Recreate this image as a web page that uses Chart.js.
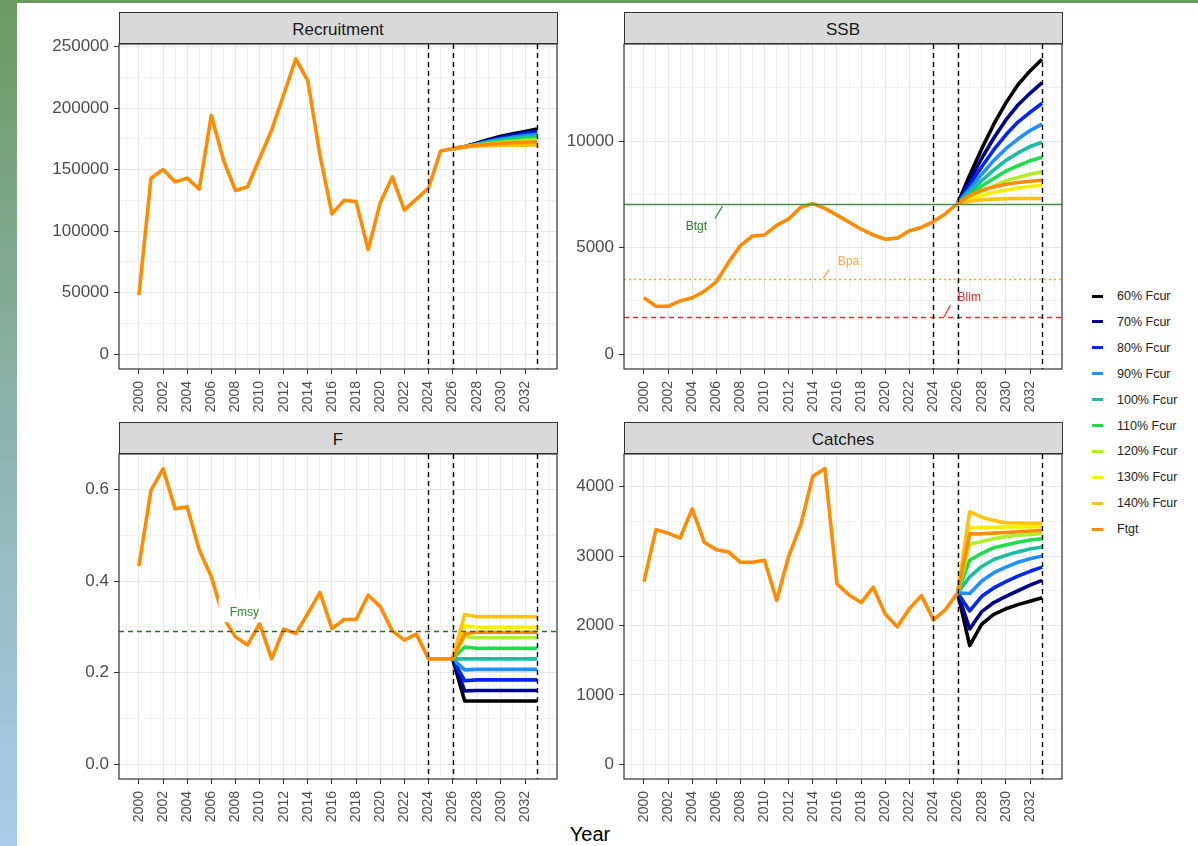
<!DOCTYPE html>
<html>
<head>
<meta charset="utf-8">
<script src="https://cdn.jsdelivr.net/npm/chart.js@4.4.1/dist/chart.umd.min.js"></script>
<style>
  html, body { margin: 0; padding: 0; background: #fff; }
  body { width: 1198px; height: 846px; position: relative; overflow: hidden;
         font-family: "Liberation Sans", Arial, sans-serif; }
  #leftbar { position: absolute; left: 0; top: 0; width: 17px; height: 846px;
             background: linear-gradient(to bottom, #6c9960 0%, #8db2aa 48%, #a9cdeb 100%); }
  #topbar { position: absolute; left: 0; top: 0; width: 1198px; height: 3px; background: #6c9960; }
  .panel { position: absolute; }
  .strip { position: absolute; height: 32px; background: #d9d9d9; border: 1px solid #333;
           box-sizing: border-box; text-align: center; font-size: 17px; line-height: 34px; color: #1a1a1a; }
  #legend { position: absolute; left: 1092px; top: 288px; width: 100px; height: 260px; }
  .lg { position: absolute; left: 0; height: 16px; width: 100px; }
  .sw { position: absolute; left: 0; top: 6.5px; width: 11px; height: 3px; }
  .lt { position: absolute; left: 25px; top: 0; line-height: 16px; font-size: 12.5px; color: #222; white-space: nowrap; }
  #xtitle { position: absolute; left: 540px; top: 824px; width: 100px; text-align: center;
            font-size: 20px; line-height: 20px; color: #000; }
</style>
</head>
<body>
<div id="leftbar"></div>
<div id="topbar"></div>
<div id="legend"></div>
<div id="xtitle">Year</div>

<script>
// --- datos ---
const histYears = [2000, 2001, 2002, 2003, 2004, 2005, 2006, 2007, 2008, 2009, 2010, 2011, 2012, 2013,
                   2014, 2015, 2016, 2017, 2018, 2019, 2020, 2021, 2022, 2023, 2024, 2025, 2026];
const projYears = [2027, 2028, 2029, 2030, 2031, 2032, 2033];

const scenarios = ["60% Fcur", "70% Fcur", "80% Fcur", "90% Fcur", "100% Fcur",
                   "110% Fcur", "120% Fcur", "130% Fcur", "140% Fcur", "Ftgt"];

// Recruitment
const recHist = [48000, 143000, 150000, 140000, 143000, 134000, 194000, 158000, 133000, 136000,
                 159000, 182000, 211000, 240000, 222000, 162000, 114000, 125000, 124000, 85000,
                 123000, 144000, 117000, 126000, 135000, 165000, 167000];
const recProj = [
  [168500, 171500, 174500, 177000, 179000, 181000, 183000],
  [168500, 171200, 174000, 176300, 178300, 180000, 181500],
  [168500, 170900, 173400, 175500, 177300, 178800, 180000],
  [168500, 170600, 172800, 174700, 176200, 177500, 178500],
  [168500, 170300, 172200, 173800, 175000, 176100, 177000],
  [168500, 170000, 171600, 172900, 173900, 174800, 175500],
  [168500, 169800, 171000, 172000, 172800, 173500, 174000],
  [168500, 169500, 170300, 171000, 171500, 171900, 172200],
  [168500, 169100, 169400, 169600, 169700, 169800, 169800],
  [168500, 169700, 170600, 171300, 171800, 172200, 172500]
];

// SSB
const ssbHist = [2650, 2250, 2250, 2500, 2650, 2950, 3400, 4300, 5100, 5550, 5600, 6050, 6350, 6900,
                 7070, 6850, 6530, 6200, 5870, 5600, 5400, 5450, 5800, 5950, 6230, 6600, 7080];
const ssbProj = [
  [8400, 9650, 10800, 11800, 12650, 13300, 13850],
  [8150, 9200, 10150, 11000, 11700, 12250, 12750],
  [7950, 8800, 9600, 10300, 10900, 11350, 11780],
  [7750, 8450, 9100, 9650, 10100, 10500, 10800],
  [7600, 8150, 8650, 9100, 9450, 9750, 9950],
  [7450, 7900, 8250, 8600, 8850, 9080, 9250],
  [7350, 7650, 7900, 8150, 8300, 8450, 8560],
  [7250, 7450, 7600, 7700, 7800, 7870, 7930],
  [7180, 7250, 7280, 7300, 7310, 7310, 7300],
  [7450, 7700, 7850, 7980, 8060, 8120, 8170]
];

// F
const fHist = [0.433, 0.598, 0.645, 0.558, 0.562, 0.468, 0.41, 0.32, 0.278, 0.26, 0.307, 0.23, 0.295,
               0.285, 0.329, 0.375, 0.296, 0.316, 0.316, 0.369, 0.344, 0.291, 0.271, 0.284, 0.23, 0.23, 0.23];
const fProj = [
  [0.138, 0.138, 0.138, 0.138, 0.138, 0.138, 0.138],
  [0.160, 0.161, 0.161, 0.161, 0.161, 0.161, 0.161],
  [0.182, 0.184, 0.184, 0.184, 0.184, 0.184, 0.184],
  [0.206, 0.207, 0.207, 0.207, 0.207, 0.207, 0.207],
  [0.230, 0.230, 0.230, 0.230, 0.230, 0.230, 0.230],
  [0.256, 0.253, 0.253, 0.253, 0.253, 0.253, 0.253],
  [0.279, 0.276, 0.276, 0.276, 0.276, 0.276, 0.276],
  [0.302, 0.299, 0.299, 0.299, 0.299, 0.299, 0.299],
  [0.327, 0.322, 0.322, 0.322, 0.322, 0.322, 0.322],
  [0.285, 0.288, 0.288, 0.288, 0.288, 0.288, 0.288]
];

// Catches
const catchHist = [2630, 3380, 3330, 3260, 3680, 3200, 3090, 3060, 2910, 2910, 2940, 2360, 3000, 3450,
                   4150, 4260, 2600, 2440, 2330, 2550, 2160, 1980, 2240, 2430, 2080, 2230, 2470];
const catchProj = [
  [1710, 2020, 2160, 2240, 2300, 2350, 2400],
  [1950, 2200, 2330, 2420, 2500, 2580, 2650],
  [2210, 2420, 2540, 2630, 2710, 2780, 2840],
  [2460, 2640, 2760, 2840, 2910, 2960, 3000],
  [2700, 2850, 2950, 3010, 3060, 3100, 3130],
  [2940, 3040, 3120, 3160, 3200, 3230, 3250],
  [3170, 3210, 3250, 3280, 3300, 3310, 3320],
  [3410, 3410, 3410, 3420, 3420, 3420, 3430],
  [3640, 3560, 3510, 3480, 3475, 3470, 3470],
  [3320, 3320, 3330, 3340, 3350, 3360, 3370]
];

// ejes
const xMajor = [2000, 2002, 2004, 2006, 2008, 2010, 2012, 2014, 2016, 2018, 2020, 2022, 2024, 2026, 2028, 2030, 2032];
const xGrid = [1999, 2000, 2001, 2002, 2003, 2004, 2005, 2006, 2007, 2008, 2009, 2010, 2011, 2012, 2013, 2014, 2015,
               2016, 2017, 2018, 2019, 2020, 2021, 2022, 2023, 2024, 2025, 2026, 2027, 2028, 2029, 2030, 2031,
               2032, 2033, 2034];
const recTicks = [0, 50000, 100000, 150000, 200000, 250000];
const recMinor = [25000, 75000, 125000, 175000, 225000];
const ssbTicks = [0, 5000, 10000];
const ssbMinor = [2500, 7500, 12500];
const fTicks = [0, 0.2, 0.4, 0.6];
const fMinor = [0.1, 0.3, 0.5];
const catchTicks = [0, 1000, 2000, 3000, 4000];
const catchMinor = [500, 1500, 2500, 3500];

// puntos de referencia
const assessYears = [2024, 2026, 2033];
const Btgt = 7070, Bpa = 3550, Blim = 1730, Fmsy = 0.29;

// --- estilos ---
const scenarioColors = ["#000000", "#00008B", "#0026F5", "#1E90FF", "#19BFA0",
                        "#1EDD4A", "#AEF028", "#F5EF00", "#FFC20E", "#FF8C00"];

Chart.defaults.font.family = "'Liberation Sans', Arial, sans-serif";

const PAD_L = 80, PAD_R = 24, PAD_T = 24, PAD_B = 60;

// dibuja borde, líneas de referencia y etiquetas
const panelDeco = {
  id: "panelDeco",
  afterDatasetsDraw(chart, args, opts) {
    const { ctx, chartArea: a, scales: { x, y } } = chart;
    ctx.save();
    ctx.beginPath();
    ctx.rect(a.left, a.top, a.width, a.height);
    ctx.clip();

    (opts.boxes || []).forEach(b => {
      const x0 = x.getPixelForValue(b.x0), x1 = x.getPixelForValue(b.x1);
      const y0 = y.getPixelForValue(b.y1), y1 = y.getPixelForValue(b.y0);
      ctx.fillStyle = "#fff";
      ctx.fillRect(x0, y0, x1 - x0, y1 - y0);
    });

    (opts.hlines || []).forEach(h => {
      const py = Math.round(y.getPixelForValue(h.value)) + 0.5;
      ctx.strokeStyle = h.color;
      ctx.lineWidth = h.width;
      ctx.setLineDash(h.dash);
      ctx.beginPath();
      ctx.moveTo(a.left, py);
      ctx.lineTo(a.right, py);
      ctx.stroke();
    });

    ctx.strokeStyle = "#000";
    ctx.lineWidth = 1.4;
    ctx.setLineDash([5, 4]);
    assessYears.forEach(yr => {
      const px = Math.round(x.getPixelForValue(yr)) + 0.5;
      ctx.beginPath();
      ctx.moveTo(px, a.top);
      ctx.lineTo(px, a.bottom);
      ctx.stroke();
    });

    ctx.setLineDash([]);
    (opts.labels || []).forEach(l => {
      if (l.seg) {
        ctx.strokeStyle = l.color;
        ctx.lineWidth = 1.2;
        ctx.beginPath();
        ctx.moveTo(x.getPixelForValue(l.seg[0]), y.getPixelForValue(l.seg[1]));
        ctx.lineTo(x.getPixelForValue(l.seg[2]), y.getPixelForValue(l.seg[3]));
        ctx.stroke();
      }
      ctx.fillStyle = l.color;
      ctx.font = "12px 'Liberation Sans', Arial, sans-serif";
      ctx.textAlign = "center";
      ctx.textBaseline = "middle";
      ctx.fillText(l.text, x.getPixelForValue(l.x), y.getPixelForValue(l.y));
    });
    ctx.restore();

    ctx.save();
    ctx.strokeStyle = "#333";
    ctx.lineWidth = 1.2;
    ctx.strokeRect(a.left, a.top, a.width, a.height);
    ctx.restore();
  }
};

function buildDatasets(hist, proj) {
  const last = hist[hist.length - 1];
  const sets = scenarios.map((name, i) => {
    const proyeccion = projYears.map((yr, k) => ({ x: yr, y: proj[i][k] }));
    const inicio = name === "Ftgt"
      ? histYears.map((yr, k) => ({ x: yr, y: hist[k] }))
      : [{ x: 2026, y: last }];
    return {
      label: name,
      data: inicio.concat(proyeccion),
      borderColor: scenarioColors[i],
      backgroundColor: scenarioColors[i],
      borderWidth: 3.6,
      pointRadius: 0,
      tension: 0,
      borderJoinStyle: "round",
      fill: false
    };
  });
  // Ftgt encima de todo, 60% abajo
  return sets.reverse();
}

function makePanel(p) {
  const b = p.box;
  const W = b.R - b.L + PAD_L + PAD_R;
  const H = b.B - b.T + PAD_T + PAD_B;
  const wrap = document.createElement("div");
  wrap.className = "panel";
  wrap.style.left = (b.L - PAD_L) + "px";
  wrap.style.top = (b.T - PAD_T) + "px";
  wrap.style.width = W + "px";
  wrap.style.height = H + "px";
  const cv = document.createElement("canvas");
  cv.width = W;
  cv.height = H;
  cv.style.width = W + "px";
  cv.style.height = H + "px";
  wrap.appendChild(cv);
  document.body.appendChild(wrap);

  const strip = document.createElement("div");
  strip.className = "strip";
  strip.style.left = (b.L - 0.5) + "px";
  strip.style.top = (b.T - 32) + "px";
  strip.style.width = (b.R - b.L + 1) + "px";
  strip.textContent = p.title;
  document.body.appendChild(strip);

  const yAll = p.yTicks.concat(p.yMinor).sort((m, n) => m - n);

  new Chart(cv.getContext("2d"), {
    type: "line",
    data: { datasets: buildDatasets(p.hist, p.proj) },
    options: {
      responsive: false,
      animation: false,
      events: [],
      layout: { padding: { top: PAD_T, right: PAD_R, bottom: 0, left: 0 } },
      plugins: {
        legend: { display: false },
        tooltip: { enabled: false },
        panelDeco: p.deco
      },
      scales: {
        x: {
          type: "linear",
          position: "bottom",
          min: 1998.35,
          max: 2034.65,
          bounds: "data",
          afterBuildTicks: s => { s.ticks = xGrid.map(v => ({ value: v })); },
          afterFit: s => { s.height = PAD_B; },
          border: { display: false },
          grid: {
            color: c => xMajor.includes(c.tick.value) ? "#E6E6E6" : "#F2F2F2",
            lineWidth: 1,
            tickLength: 5,
            tickColor: c => xMajor.includes(c.tick.value) ? "#333" : "rgba(0,0,0,0)"
          },
          ticks: {
            autoSkip: false,
            minRotation: 90,
            maxRotation: 90,
            padding: 7,
            color: "#4D4D4D",
            font: { size: 14 },
            callback: v => xMajor.includes(v) ? String(v) : ""
          }
        },
        y: {
          type: "linear",
          position: "left",
          min: p.yMin,
          max: p.yMax,
          bounds: "data",
          afterBuildTicks: s => { s.ticks = yAll.map(v => ({ value: v })); },
          afterFit: s => { s.width = PAD_L; },
          border: { display: false },
          grid: {
            color: c => p.yTicks.includes(c.tick.value) ? "#E6E6E6" : "#F2F2F2",
            lineWidth: 1,
            tickLength: 5,
            tickColor: c => p.yTicks.includes(c.tick.value) ? "#333" : "rgba(0,0,0,0)"
          },
          ticks: {
            autoSkip: false,
            padding: 5,
            color: "#4D4D4D",
            font: { size: 17 },
            callback: v => p.yTicks.includes(v) ? p.fmt(v) : ""
          }
        }
      }
    },
    plugins: [panelDeco]
  });
}

const panelList = [
  {
    title: "Recruitment", hist: recHist, proj: recProj,
    box: { L: 119, R: 557, T: 44, B: 369 },
    yMin: -12000, yMax: 252000, yTicks: recTicks, yMinor: recMinor,
    fmt: v => String(v),
    deco: {}
  },
  {
    title: "SSB", hist: ssbHist, proj: ssbProj,
    box: { L: 624, R: 1062, T: 44, B: 369 },
    yMin: -694, yMax: 14564, yTicks: ssbTicks, yMinor: ssbMinor,
    fmt: v => String(v),
    deco: {
      hlines: [
        { value: Btgt, color: "#4E8A4E", width: 1.5, dash: [] },
        { value: Bpa, color: "#FFA51F", width: 1.3, dash: [2, 3] },
        { value: Blim, color: "#EE2A2A", width: 1.3, dash: [5, 4] }
      ],
      labels: [
        { text: "Btgt", x: 2004.35, y: 5965, color: "#2F7A2F", seg: [2005.9, 6373, 2006.5, 6950] },
        { text: "Bpa", x: 2016.96, y: 4325, color: "#F5A830", seg: [2014.86, 3561, 2015.36, 3983] },
        { text: "Blim", x: 2026.96, y: 2638, color: "#EE2A2A", seg: [2024.89, 1762, 2025.4, 2310] }
      ]
    }
  },
  {
    title: "F", hist: fHist, proj: fProj,
    box: { L: 119, R: 557, T: 454, B: 779 },
    yMin: -0.0325, yMax: 0.6775, yTicks: fTicks, yMinor: fMinor,
    fmt: v => v.toFixed(1),
    deco: {
      boxes: [{ x0: 2006.6, x1: 2010.9, y0: 0.310, y1: 0.362 }],
      hlines: [{ value: Fmsy, color: "#2E6B2E", width: 1.3, dash: [5, 4] }],
      labels: [{ text: "Fmsy", x: 2008.74, y: 0.331, color: "#2E8B2E" }]
    }
  },
  {
    title: "Catches", hist: catchHist, proj: catchProj,
    box: { L: 624, R: 1062, T: 454, B: 779 },
    yMin: -212, yMax: 4470, yTicks: catchTicks, yMinor: catchMinor,
    fmt: v => String(v),
    deco: {}
  }
];

panelList.forEach(makePanel);

// leyenda
const legendBox = document.getElementById("legend");
scenarios.forEach((name, i) => {
  const row = document.createElement("div");
  row.className = "lg";
  row.style.top = (i * 25.9) + "px";
  row.innerHTML = '<span class="sw" style="background:' + scenarioColors[i] + '"></span>' +
                  '<span class="lt">' + name + '</span>';
  legendBox.appendChild(row);
});
</script>
</body>
</html>
